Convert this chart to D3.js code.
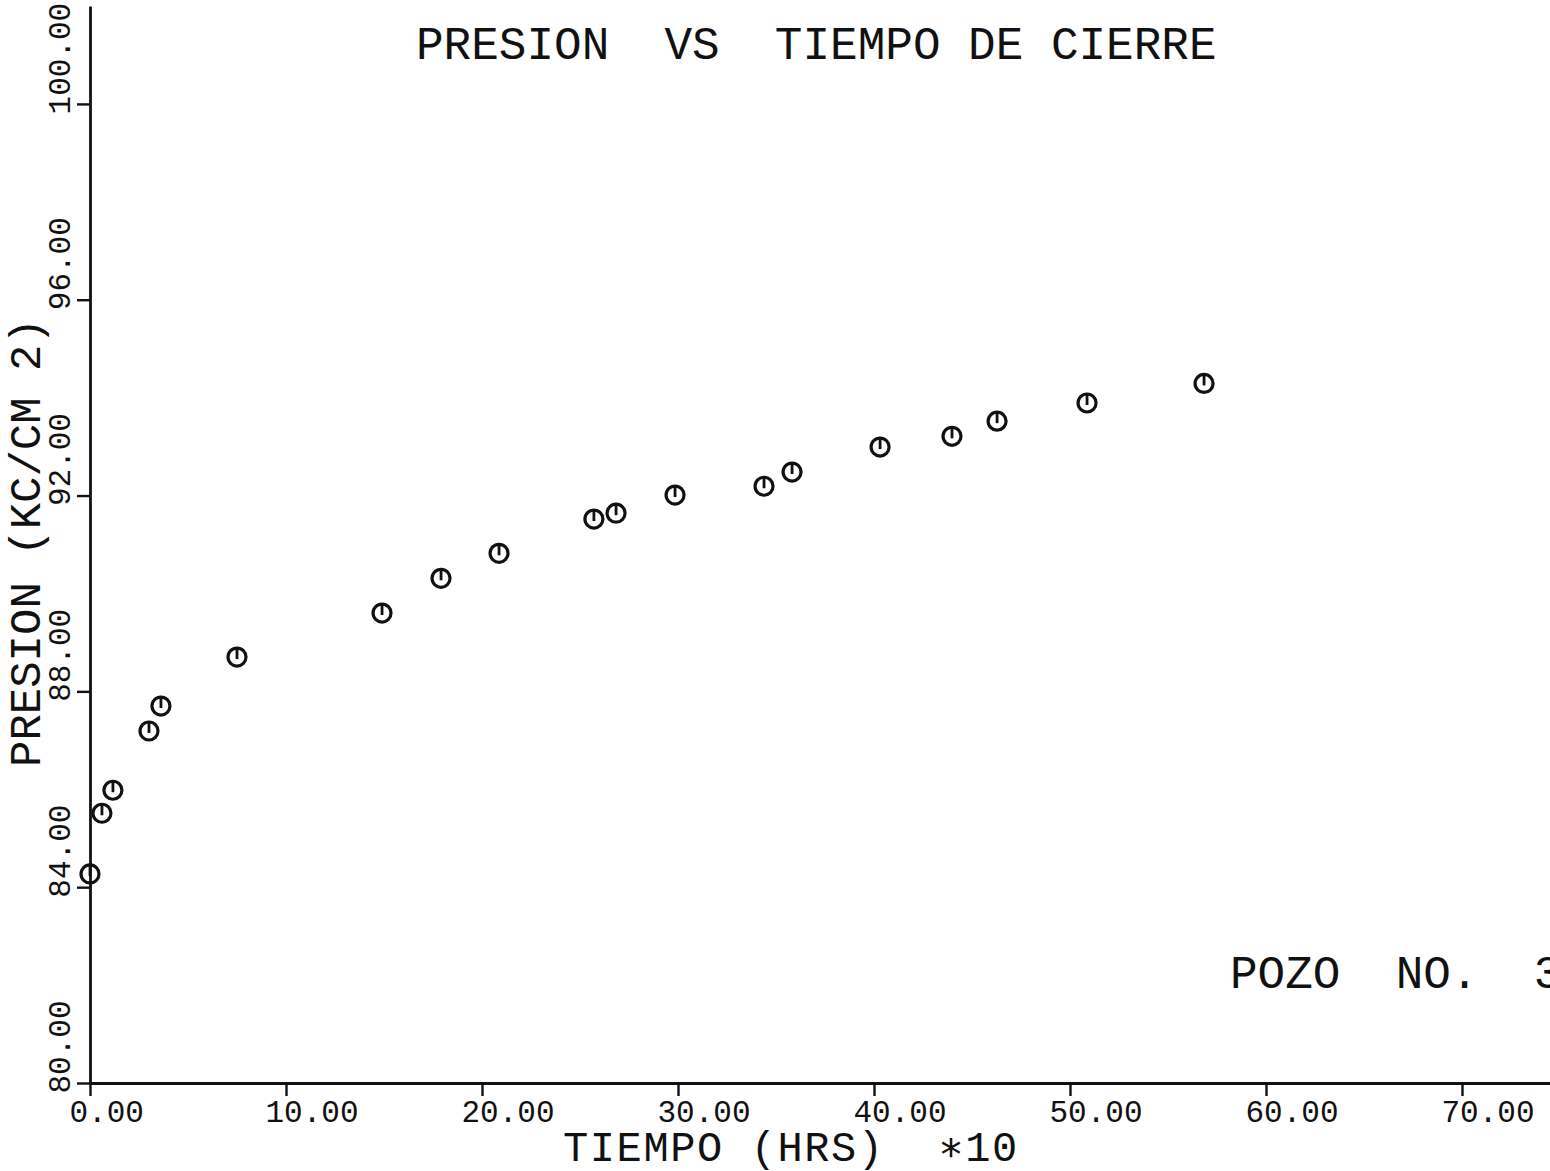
<!DOCTYPE html>
<html>
<head>
<meta charset="utf-8">
<script src="https://cdn.jsdelivr.net/npm/d3@7/dist/d3.min.js"></script>
<style>
  html, body { margin: 0; padding: 0; background: #fff; }
  svg { display: block; }
  text { font-family: "Liberation Mono", "DejaVu Sans Mono", monospace; fill: #111; }
</style>
</head>
<body>
<svg id="chart" width="1550" height="1171"></svg>
<script>
// Shut-in pressure build-up readings, well no. 3
const tiempo  = [0.00, 0.61, 1.17, 3.01, 3.62, 7.50, 14.90, 17.91, 20.87, 25.71, 26.84,
                 29.85, 34.39, 35.82, 40.31, 43.98, 46.28, 50.87, 56.84];
const presion = [84.27, 85.51, 85.98, 87.19, 87.70, 88.70, 89.60, 90.31, 90.82, 91.52, 91.64,
                 92.01, 92.19, 92.48, 92.99, 93.21, 93.52, 93.89, 94.29];

const xTicks = [0, 10, 20, 30, 40, 50, 60, 70];
const yTicks = [80, 84, 88, 92, 96, 100];
const xDomain = [0, 74.49];
const yDomain = [80, 102];

const titulo = "PRESION  VS  TIEMPO DE CIERRE";
const xTitulo = "TIEMPO (HRS)  \u221710";
const yTitulo = "PRESION (KC/CM 2)";
const pozo = "POZO  NO.  3";

const svg = d3.select("#chart");
const left = 90, bottom = 1083;

const x = d3.scaleLinear().domain(xDomain).range([left, 1550]);
const y = d3.scaleLinear().domain(yDomain).range([bottom, 6]);

const fmt = d3.format(".2f");
const ink = "#111";

// X axis
const gx = svg.append("g")
  .attr("transform", `translate(0,${bottom})`)
  .call(d3.axisBottom(x).tickValues(xTicks).tickFormat(fmt).tickSize(13).tickSizeOuter(0));
gx.select(".domain").attr("stroke", ink).attr("stroke-width", 2.8);
gx.selectAll(".tick line").attr("stroke", ink).attr("stroke-width", 2.4);
gx.selectAll(".tick text")
  .attr("x", -21).attr("y", 39).attr("dy", 0)
  .attr("text-anchor", "start")
  .attr("font-size", 31)
  .attr("font-family", "Liberation Mono, monospace")
  .attr("fill", ink);

// Y axis
const gy = svg.append("g")
  .attr("transform", `translate(${left},0)`)
  .call(d3.axisLeft(y).tickValues(yTicks).tickFormat(fmt).tickSize(13).tickSizeOuter(0));
gy.select(".domain").attr("stroke", ink).attr("stroke-width", 2.8);
gy.selectAll(".tick line").attr("stroke", ink).attr("stroke-width", 2.4);
gy.selectAll(".tick text")
  .attr("x", 0).attr("y", 0).attr("dy", 0)
  .attr("transform", "translate(-20,10) rotate(-90)")
  .attr("text-anchor", "start")
  .attr("font-size", 31)
  .attr("font-family", "Liberation Mono, monospace")
  .attr("fill", ink);

// Titles
svg.append("text")
  .attr("x", 416).attr("y", 59)
  .attr("font-size", 46)
  .style("white-space", "pre")
  .text(titulo);

svg.append("text")
  .attr("x", 563).attr("y", 1161)
  .attr("font-size", 42)
  .attr("letter-spacing", 1.6)
  .style("white-space", "pre")
  .text(xTitulo);

svg.append("text")
  .attr("transform", "translate(40,767) rotate(-90)")
  .attr("font-size", 44)
  .style("white-space", "pre")
  .text(yTitulo);

svg.append("text")
  .attr("x", 1230).attr("y", 988)
  .attr("font-size", 46)
  .style("white-space", "pre")
  .text(pozo);

// Data markers: open circle with a short stroke from the top to the centre
const r = 9;
const pts = svg.append("g")
  .selectAll("g")
  .data(tiempo.map((t, i) => ({ t, p: presion[i] })))
  .join("g")
  .attr("transform", d => `translate(${x(d.t)},${y(d.p)})`);
pts.append("circle")
  .attr("r", r)
  .attr("fill", "none")
  .attr("stroke", ink)
  .attr("stroke-width", 3.2);
pts.append("line")
  .attr("x1", 0).attr("x2", 0)
  .attr("y1", -r).attr("y2", 2)
  .attr("stroke", ink)
  .attr("stroke-width", 2.8);
</script>
</body>
</html>
